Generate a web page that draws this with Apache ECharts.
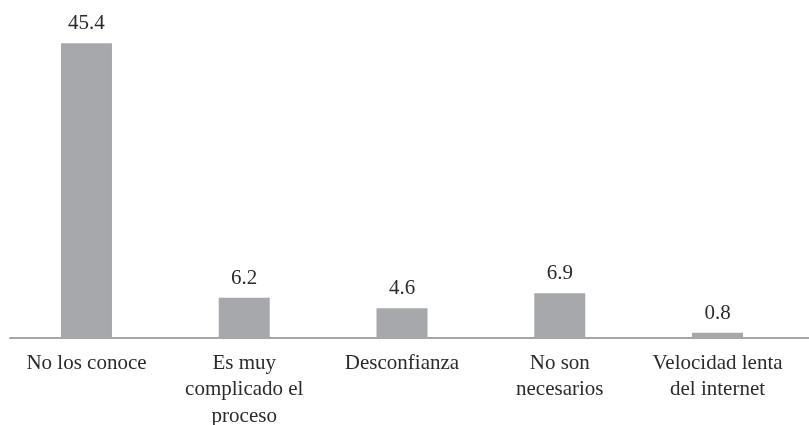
<!DOCTYPE html>
<html>
<head>
<meta charset="utf-8">
<script src="https://cdn.jsdelivr.net/npm/echarts@6/dist/echarts.min.js"></script>
<style>
  html, body { margin: 0; padding: 0; background: #ffffff; }
  #chart { width: 809px; height: 425px; }
</style>
</head>
<body>
<div id="chart"></div>
<script>
// Reasons for not using the services (%)
const categories = [
  'No los conoce',
  'Es muy\ncomplicado el\nproceso',
  'Desconfianza',
  'No son\nnecesarios',
  'Velocidad lenta\ndel internet'
];
const values = [45.4, 6.2, 4.6, 6.9, 0.8];

const serif = '"Liberation Serif", "DejaVu Serif", serif';
const textColor = '#2b2b2b';

const chart = echarts.init(document.getElementById('chart'), null, { renderer: 'canvas' });

chart.setOption({
  animation: false,
  backgroundColor: '#ffffff',
  grid: [
    { left: 7.6, right: 12.6, top: 13.5, bottom: 87, containLabel: false, outerBoundsMode: 'none' },
    { left: 10, right: 0, top: 13.5, bottom: 87, containLabel: false, outerBoundsMode: 'none' }
  ],
  xAxis: [
    {
      type: 'category',
      gridIndex: 0,
      data: categories,
      axisLine: { show: false },
      axisTick: { show: false },
      axisLabel: {
        interval: 0,
        margin: 12,
        color: textColor,
        fontFamily: serif,
        fontSize: 21,
        lineHeight: 26.5,
        align: 'center',
        hideOverlap: false
      }
    },
    {
      // baseline rule running across the plot
      type: 'value',
      gridIndex: 1,
      min: 0,
      max: 1,
      axisLine: { show: true, onZero: false, lineStyle: { color: '#a6a6a6', width: 2 } },
      axisTick: { show: false },
      axisLabel: { show: false },
      splitLine: { show: false }
    }
  ],
  yAxis: [
    {
      type: 'value',
      gridIndex: 0,
      min: 0,
      max: 50,
      show: false,
      splitLine: { show: false }
    },
    {
      type: 'value',
      gridIndex: 1,
      min: 0,
      max: 1,
      show: false,
      splitLine: { show: false }
    }
  ],
  series: [
    {
      type: 'bar',
      xAxisIndex: 0,
      yAxisIndex: 0,
      data: values,
      barWidth: 51,
      itemStyle: { color: '#a7a8ab' },
      label: {
        show: true,
        position: 'top',
        distance: 9,
        color: textColor,
        fontFamily: serif,
        fontSize: 21,
        formatter: p => p.value.toFixed(1)
      }
    }
  ]
});
</script>
</body>
</html>
